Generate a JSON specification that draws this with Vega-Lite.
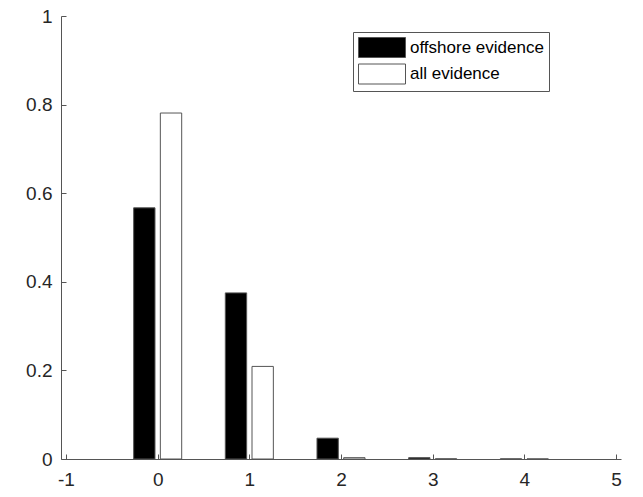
{
  "$schema": "https://vega.github.io/schema/vega-lite/v6.json",
  "width": 560,
  "height": 443,
  "autosize": "none",
  "padding": {"left": 61, "top": 16, "right": 22, "bottom": 38},
  "background": "white",
  "config": {
    "view": {"stroke": null},
    "font": "Liberation Sans"
  },
  "data": {
    "values": [
      {"k": 0, "series": "offshore evidence", "p": 0.567},
      {"k": 0, "series": "all evidence", "p": 0.781},
      {"k": 1, "series": "offshore evidence", "p": 0.375},
      {"k": 1, "series": "all evidence", "p": 0.209},
      {"k": 2, "series": "offshore evidence", "p": 0.047},
      {"k": 2, "series": "all evidence", "p": 0.003},
      {"k": 3, "series": "offshore evidence", "p": 0.003},
      {"k": 3, "series": "all evidence", "p": 0.0005},
      {"k": 4, "series": "offshore evidence", "p": 0.0003},
      {"k": 4, "series": "all evidence", "p": 0.0002}
    ]
  },
  "encoding": {
    "x": {
      "field": "k",
      "type": "quantitative",
      "scale": {"domain": [-1, 5], "nice": false, "zero": false},
      "axis": {
        "title": null,
        "values": [-1, 0, 1, 2, 3, 4, 5],
        "labelExpr": "datum.value + ''",
        "grid": false,
        "domainColor": "#555555",
        "tickColor": "#555555",
        "tickSize": -5,
        "labelPadding": 16,
        "labelFontSize": 19,
        "labelColor": "#262626",
        "labelFlush": false
      }
    },
    "y": {
      "field": "p",
      "type": "quantitative",
      "scale": {"domain": [0, 1], "nice": false},
      "axis": {
        "title": null,
        "values": [0, 0.2, 0.4, 0.6, 0.8, 1],
        "labelExpr": "datum.value + ''",
        "grid": false,
        "domainColor": "#555555",
        "tickColor": "#555555",
        "tickSize": -5,
        "labelPadding": 14,
        "labelFontSize": 19,
        "labelColor": "#262626",
        "labelFlush": false
      }
    },
    "color": {
      "field": "series",
      "type": "nominal",
      "scale": {"domain": ["offshore evidence", "all evidence"], "range": ["#000000", "#ffffff"]},
      "legend": {
        "title": null,
        "orient": "none",
        "legendX": 292,
        "legendY": 16,
        "direction": "vertical",
        "padding": 5,
        "strokeColor": "#555555",
        "fillColor": "white",
        "symbolType": "M-1,-1H3.7V1H-1Z",
        "symbolSize": 400,
        "symbolStrokeColor": "#555555",
        "symbolStrokeWidth": 1,
        "symbolOpacity": 1,
        "labelFontSize": 17,
        "labelColor": "#000000",
        "labelOffset": 31,
        "rowPadding": 1.5
      }
    }
  },
  "layer": [
    {
      "transform": [{"filter": "datum.series == 'offshore evidence'"}],
      "mark": {"type": "bar", "width": 21.35, "xOffset": -13.35, "stroke": "#555555", "strokeWidth": 1, "opacity": 1}
    },
    {
      "transform": [{"filter": "datum.series == 'all evidence'"}],
      "mark": {"type": "bar", "width": 21.35, "xOffset": 13.35, "stroke": "#555555", "strokeWidth": 1, "opacity": 1}
    }
  ]
}
